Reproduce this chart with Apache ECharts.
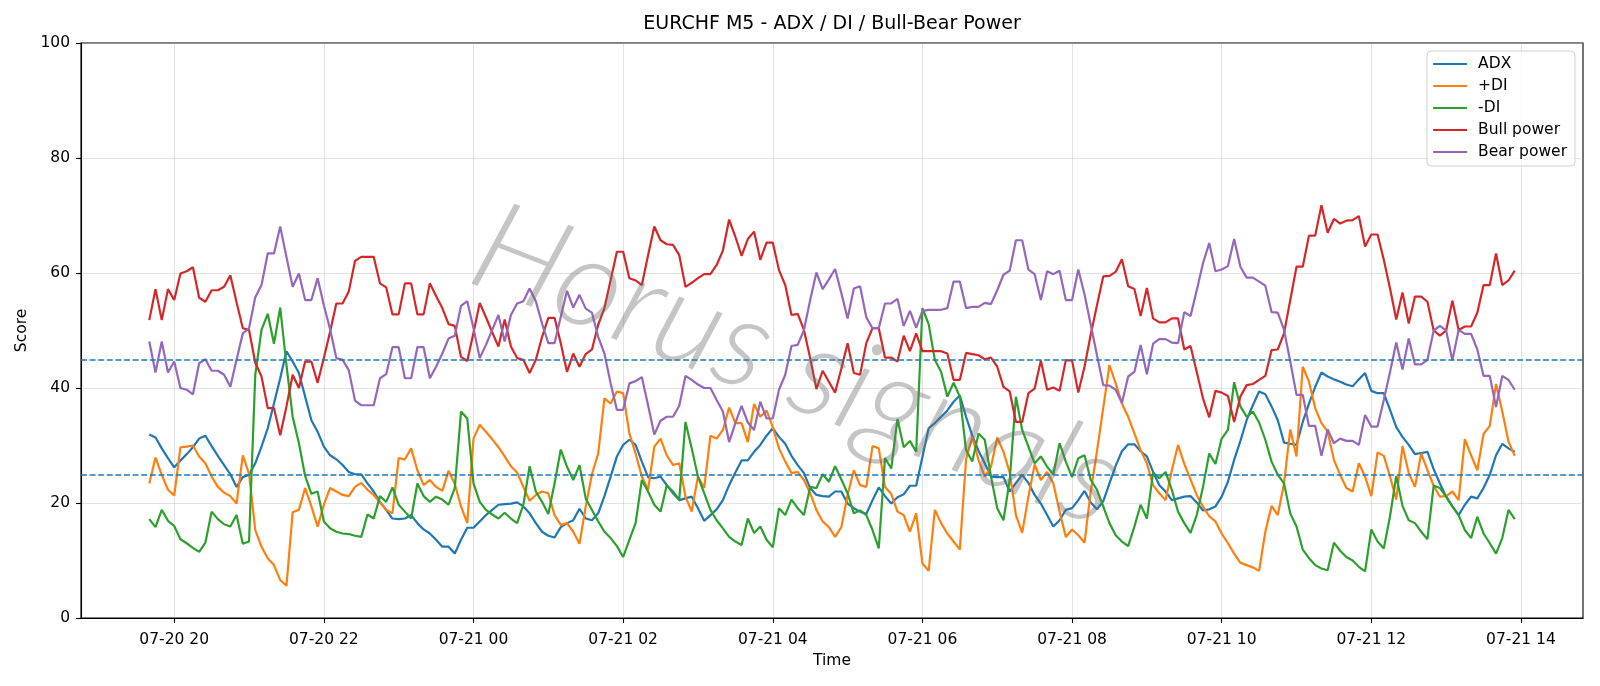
<!DOCTYPE html>
<html>
<head>
<meta charset="utf-8">
<title>EURCHF M5 - ADX / DI / Bull-Bear Power</title>
<script src="https://cdn.jsdelivr.net/npm/echarts@6/dist/echarts.min.js"></script>
<style>
html, body { margin: 0; padding: 0; background: #fff; }
#chart { width: 1600px; height: 686px; }
</style>
</head>
<body>
<div id="chart"></div>
<script>
// M5 bars, first bar 07-20 19:40
var startTime = Date.UTC(2025, 6, 20, 19, 40);
var stepMs = 5 * 60 * 1000;

var adx = [
    31.9, 31.4, 29.5, 27.8, 26.2, 27.4, 28.5, 29.7, 31.2, 31.7, 29.9, 28.2, 26.6, 25.0, 22.8, 24.5, 24.9, 26.9, 29.8, 33.0,
    37.3, 41.7, 46.4, 44.6, 42.6, 38.5, 34.4, 32.4, 29.8, 28.3, 27.6, 26.6, 25.4, 25.0, 25.0, 23.4, 22.0, 20.2, 18.8, 17.3,
    17.2, 17.3, 17.9, 16.5, 15.4, 14.7, 13.6, 12.4, 12.4, 11.2, 13.6, 15.7, 15.7, 16.8, 17.9, 18.8, 19.7, 19.8, 19.9, 20.1,
    19.4, 18.2, 16.5, 15.0, 14.3, 14.0, 15.8, 16.5, 17.0, 19.0, 17.3, 17.0, 18.2, 21.2, 24.6, 28.1, 30.1, 31.0, 30.1, 27.2,
    24.5, 24.3, 24.6, 23.1, 21.7, 20.5, 20.8, 21.1, 19.1, 16.9, 17.9, 18.9, 20.5, 23.1, 25.3, 27.4, 27.4, 28.9, 30.1, 31.7,
    33.0, 31.5, 30.3, 28.2, 26.6, 25.2, 22.6, 21.4, 21.2, 21.1, 22.0, 22.0, 19.9, 19.1, 18.5, 18.1, 20.5, 22.7, 21.2, 19.9,
    21.0, 21.5, 23.0, 23.0, 28.0, 33.0, 33.9, 35.0, 36.1, 37.6, 38.7, 35.0, 31.7, 29.1, 26.9, 24.6, 24.5, 24.5, 22.0, 23.5,
    24.9, 23.5, 21.4, 19.9, 17.9, 15.9, 17.0, 18.8, 19.1, 20.5, 22.1, 20.1, 18.9, 20.3, 23.4, 26.5, 29.0, 30.2, 30.2, 29.0,
    28.1, 25.4, 23.1, 22.0, 20.5, 20.8, 21.1, 21.2, 20.1, 18.7, 18.9, 19.4, 21.1, 23.7, 27.5, 30.8, 34.4, 37.0, 39.4, 38.9,
    36.8, 34.4, 30.5, 30.3, 30.1, 34.1, 37.3, 40.2, 42.7, 42.0, 41.5, 41.1, 40.6, 40.3, 41.5, 42.6, 39.5, 39.1, 39.1, 36.2,
    33.2, 31.5, 30.1, 28.5, 28.7, 28.9, 25.9, 23.4, 21.1, 19.4, 17.9, 19.7, 21.1, 20.8, 22.6, 24.9, 28.3, 30.3, 29.5, 28.9
];
var plusDI = [
    23.4, 27.9, 24.9, 22.3, 21.3, 29.7, 29.8, 30.0, 28.1, 26.9, 24.6, 22.8, 21.8, 21.2, 19.9, 28.3, 25.1, 15.3, 12.4, 10.4,
    9.2, 6.6, 5.6, 18.4, 18.8, 22.6, 19.4, 15.9, 19.7, 22.6, 22.0, 21.4, 21.2, 22.8, 23.5, 22.3, 21.4, 20.1, 18.8, 18.2,
    27.8, 27.6, 29.5, 25.7, 23.1, 24.0, 22.8, 22.1, 25.6, 23.3, 19.4, 16.5, 31.2, 33.6, 32.4, 31.1, 29.7, 28.1, 26.4, 25.3,
    22.8, 20.4, 21.4, 22.0, 21.7, 17.9, 16.2, 16.5, 15.0, 12.9, 19.4, 25.0, 28.6, 38.2, 37.3, 39.4, 39.1, 32.1, 28.6, 24.6,
    22.3, 29.8, 31.2, 28.3, 26.6, 26.9, 21.1, 18.5, 24.6, 22.6, 31.7, 31.2, 32.7, 36.6, 33.9, 33.9, 30.6, 37.2, 35.0, 36.1,
    33.2, 29.5, 27.2, 25.2, 25.4, 24.0, 21.7, 18.8, 16.8, 15.8, 14.1, 15.8, 21.4, 25.7, 23.1, 22.8, 29.9, 29.5, 22.8, 21.6,
    18.5, 17.9, 15.0, 18.2, 9.5, 8.2, 18.8, 16.5, 14.7, 13.3, 11.9, 27.6, 31.5, 27.5, 24.6, 26.3, 31.4, 28.9, 25.3, 17.9,
    14.8, 21.1, 26.7, 24.0, 25.4, 23.4, 18.5, 14.1, 15.4, 14.4, 13.1, 22.0, 29.0, 36.5, 44.0, 40.8, 37.3, 35.0, 32.1, 29.2,
    26.9, 23.1, 21.7, 20.5, 25.7, 30.1, 26.8, 24.1, 21.4, 19.4, 17.7, 16.8, 14.7, 13.0, 11.2, 9.6, 9.2, 8.8, 8.2, 15.0,
    19.5, 17.9, 23.4, 32.8, 28.1, 43.7, 41.1, 36.5, 33.9, 32.4, 27.5, 24.9, 22.6, 22.0, 26.9, 24.6, 21.2, 28.8, 28.2, 24.6,
    20.6, 29.9, 25.2, 22.8, 28.6, 25.7, 23.0, 21.1, 21.2, 22.0, 20.5, 31.1, 28.3, 25.7, 32.0, 33.4, 40.7, 35.9, 30.7, 28.2
];
var minusDI = [
    17.2, 15.8, 18.8, 16.9, 16.0, 13.7, 13.0, 12.2, 11.5, 13.1, 18.5, 17.2, 16.3, 15.9, 17.9, 12.9, 13.3, 42.3, 50.1, 52.9,
    47.7, 54.0, 44.0, 35.0, 30.4, 24.7, 21.6, 22.0, 16.8, 15.6, 15.0, 14.7, 14.6, 14.3, 14.1, 18.0, 17.3, 21.2, 20.2, 22.7,
    19.7, 18.5, 17.3, 23.4, 21.2, 20.2, 21.1, 20.6, 19.7, 22.6, 35.9, 34.7, 23.4, 20.2, 18.8, 18.0, 17.3, 18.3, 17.3, 16.5,
    19.7, 26.4, 22.0, 20.2, 18.1, 23.4, 29.3, 26.3, 24.0, 26.6, 20.8, 18.8, 16.8, 15.0, 13.9, 12.5, 10.6, 13.6, 16.5, 24.0,
    22.0, 19.7, 18.5, 23.1, 22.0, 20.6, 34.1, 29.5, 24.6, 21.7, 18.8, 17.0, 15.6, 14.1, 13.3, 12.7, 17.3, 14.8, 15.9, 13.6,
    12.3, 19.1, 17.9, 20.6, 19.1, 17.9, 22.8, 22.6, 25.0, 23.7, 26.4, 24.1, 21.7, 18.2, 18.7, 17.9, 15.3, 12.1, 27.8, 26.0,
    34.6, 29.7, 30.8, 28.9, 53.9, 51.1, 44.9, 42.8, 38.5, 40.9, 38.5, 29.2, 27.2, 32.1, 31.0, 24.6, 19.1, 17.0, 24.0, 38.5,
    32.7, 29.8, 26.9, 28.1, 26.3, 25.0, 30.4, 27.2, 24.5, 27.8, 28.3, 24.0, 22.3, 19.4, 16.5, 14.4, 13.3, 12.5, 15.9, 19.7,
    17.3, 25.3, 24.3, 25.4, 22.3, 18.5, 16.5, 14.8, 17.9, 22.8, 28.6, 26.8, 31.2, 32.7, 41.0, 36.8, 35.0, 35.9, 34.0, 31.0,
    27.2, 24.9, 23.4, 18.2, 15.9, 11.9, 10.4, 9.2, 8.6, 8.3, 13.1, 11.7, 10.6, 10.0, 8.9, 8.1, 15.4, 13.3, 12.1, 17.7,
    24.7, 19.5, 17.0, 16.5, 15.0, 13.7, 23.0, 22.6, 21.1, 19.4, 17.9, 15.3, 13.9, 17.6, 14.7, 13.0, 11.2, 13.9, 18.8, 17.2
];
var bullPower = [
    51.8, 57.2, 51.8, 57.2, 55.3, 59.9, 60.3, 61.0, 55.7, 55.0, 57.0, 57.0, 57.6, 59.6, 54.9, 50.4, 50.1, 44.4, 42.0, 36.5,
    36.5, 31.8, 36.8, 42.3, 40.0, 44.6, 44.6, 40.9, 45.2, 49.8, 54.7, 54.7, 56.8, 62.1, 62.8, 62.8, 62.8, 58.2, 57.5, 52.8,
    52.8, 58.2, 58.2, 52.8, 52.8, 58.2, 56.0, 53.9, 51.1, 50.8, 45.4, 44.7, 49.6, 54.8, 52.3, 49.7, 47.2, 51.9, 47.2, 45.2,
    44.9, 42.6, 44.9, 48.9, 52.2, 52.2, 47.8, 42.8, 46.0, 43.7, 45.9, 46.7, 51.0, 53.9, 58.8, 63.7, 63.7, 59.1, 58.7, 57.9,
    63.1, 68.1, 65.7, 65.0, 64.9, 63.1, 57.6, 58.3, 59.1, 59.8, 59.8, 61.4, 63.9, 69.3, 66.3, 63.0, 65.9, 67.2, 62.3, 65.3,
    65.3, 60.5, 57.9, 52.7, 52.9, 50.1, 45.2, 39.8, 43.0, 41.1, 39.2, 43.4, 47.8, 42.6, 42.3, 47.8, 50.4, 50.4, 45.3, 45.3,
    44.6, 49.1, 46.4, 49.5, 46.4, 46.4, 46.4, 46.4, 46.0, 41.4, 41.4, 46.1, 45.9, 45.7, 45.0, 45.3, 43.7, 40.2, 39.4, 34.1,
    34.1, 39.1, 39.9, 44.8, 39.7, 40.1, 39.5, 44.8, 44.8, 39.2, 43.7, 49.3, 54.4, 59.4, 59.5, 60.2, 62.4, 57.7, 57.2, 52.5,
    57.4, 52.1, 51.4, 51.4, 52.1, 52.1, 46.7, 47.3, 42.8, 38.2, 34.9, 39.5, 39.2, 38.6, 34.1, 38.5, 40.5, 40.7, 41.4, 42.1,
    46.6, 46.7, 49.5, 55.3, 61.1, 61.1, 66.5, 66.5, 71.8, 67.0, 69.4, 68.6, 69.1, 69.2, 69.9, 64.6, 66.7, 66.7, 62.3, 57.3,
    51.9, 56.6, 51.2, 55.9, 55.9, 55.0, 50.0, 49.1, 50.0, 55.2, 50.1, 50.7, 50.7, 53.1, 57.9, 57.9, 63.4, 57.9, 58.7, 60.4
];
var bearPower = [
    48.1, 42.7, 48.1, 42.7, 44.6, 40.0, 39.7, 38.9, 44.3, 45.0, 43.0, 43.0, 42.3, 40.2, 44.9, 49.5, 50.4, 55.8, 57.9, 63.4,
    63.4, 68.1, 62.8, 57.6, 59.9, 55.3, 55.3, 59.1, 54.4, 50.2, 45.2, 44.9, 43.1, 37.8, 37.0, 37.0, 37.0, 41.7, 42.4, 47.1,
    47.1, 41.7, 41.7, 47.1, 47.1, 41.7, 43.7, 46.0, 48.6, 49.1, 54.3, 55.1, 50.4, 45.2, 47.5, 50.1, 52.7, 48.1, 52.7, 54.7,
    55.1, 57.3, 55.1, 51.2, 47.8, 47.8, 52.4, 56.9, 54.0, 56.2, 53.8, 53.1, 48.9, 46.0, 40.8, 36.2, 36.2, 40.8, 41.2, 41.9,
    37.0, 31.9, 34.3, 35.0, 35.0, 36.9, 42.1, 41.4, 40.6, 40.0, 40.0, 37.9, 35.9, 30.6, 33.9, 36.9, 34.0, 32.7, 37.6, 34.7,
    34.7, 39.7, 42.3, 47.3, 47.5, 50.1, 55.3, 60.1, 57.2, 58.9, 60.7, 56.5, 52.1, 57.3, 57.7, 52.3, 50.4, 50.4, 54.7, 54.7,
    55.5, 50.8, 53.4, 50.5, 53.4, 53.6, 53.6, 53.6, 53.9, 58.5, 58.5, 53.9, 54.1, 54.1, 54.8, 54.6, 57.0, 59.7, 60.4, 65.7,
    65.7, 60.6, 59.8, 55.3, 60.3, 59.8, 60.4, 55.3, 55.3, 60.6, 56.3, 51.0, 45.7, 40.5, 40.4, 39.7, 37.4, 42.0, 42.8, 47.5,
    42.4, 47.7, 48.5, 48.5, 47.9, 47.8, 53.2, 52.5, 57.0, 61.7, 65.2, 60.3, 60.6, 61.2, 65.9, 61.1, 59.2, 59.2, 58.5, 57.8,
    53.2, 53.1, 50.1, 44.6, 38.8, 38.8, 33.4, 33.4, 28.2, 32.8, 30.4, 31.2, 30.8, 30.8, 30.1, 35.3, 33.3, 33.3, 37.9, 42.8,
    47.9, 43.2, 48.6, 44.1, 44.1, 44.9, 50.0, 50.8, 50.0, 44.8, 50.1, 49.4, 49.4, 46.7, 42.1, 42.1, 36.7, 42.1, 41.4, 39.7
];

// 2h ticks: 07-20 20:00 ... 07-21 14:00
var tickTimes = [
    Date.UTC(2025, 6, 20, 20), Date.UTC(2025, 6, 20, 22), Date.UTC(2025, 6, 21, 0),
    Date.UTC(2025, 6, 21, 2), Date.UTC(2025, 6, 21, 4), Date.UTC(2025, 6, 21, 6),
    Date.UTC(2025, 6, 21, 8), Date.UTC(2025, 6, 21, 10), Date.UTC(2025, 6, 21, 12),
    Date.UTC(2025, 6, 21, 14)
];
var thresholds = [45, 25];

var colors = ['#1f77b4', '#ff7f0e', '#2ca02c', '#d62728', '#9467bd'];
var font = 'DejaVu Sans';
var gridColor = 'rgba(176,176,176,0.35)';

function pad2(n) { return (n < 10 ? '0' : '') + n; }
function fmtTick(v) {
    var d = new Date(v);
    return pad2(d.getUTCMonth() + 1) + '-' + pad2(d.getUTCDate()) + ' ' + pad2(d.getUTCHours());
}
function toPoints(values) {
    var out = [];
    for (var i = 0; i < values.length; i++) {
        out.push([startTime + i * stepMs, values[i]]);
    }
    return out;
}

// matplotlib style 5% x margins
var span = (adx.length - 1) * stepMs;
var xMin = startTime - span * 0.05;
var xMax = startTime + span * 1.05;

function lineSeries(name, values, color) {
    return {
        name: name,
        type: 'line',
        data: toPoints(values),
        symbol: 'none',
        showSymbol: false,
        lineStyle: { color: color, width: 2.2 },
        itemStyle: { color: color },
        animation: false
    };
}

var series = [
    lineSeries('ADX', adx, colors[0]),
    lineSeries('+DI', plusDI, colors[1]),
    lineSeries('-DI', minusDI, colors[2]),
    lineSeries('Bull power', bullPower, colors[3]),
    lineSeries('Bear power', bearPower, colors[4])
];
series[0].markLine = {
    silent: true,
    symbol: 'none',
    label: { show: false },
    lineStyle: { color: colors[0], width: 1.5, type: [6, 2.6] },
    data: thresholds.map(function (t) { return { yAxis: t }; }),
    animation: false
};

var chart = echarts.init(document.getElementById('chart'));
chart.setOption({
    backgroundColor: '#ffffff',
    animation: false,
    color: colors,
    textStyle: { fontFamily: font },
    title: {
        text: 'EURCHF M5 - ADX / DI / Bull-Bear Power',
        left: 832,
        top: 15,
        padding: 0,
        textAlign: 'center',
        textStyle: { fontFamily: font, fontSize: 19, fontWeight: 'normal', color: '#000' }
    },
    legend: {
        orient: 'vertical',
        right: 25,
        top: 51,
        padding: [5, 8, 6, 5],
        itemWidth: 34,
        itemHeight: 16,
        itemGap: 6,
        backgroundColor: 'rgba(255,255,255,0.8)',
        borderColor: '#d0d0d0',
        borderWidth: 1,
        borderRadius: 4,
        itemStyle: { opacity: 0 },
        lineStyle: { width: 2.2 },
        textStyle: { fontFamily: font, fontSize: 15.5, color: '#000', padding: [0, 0, 0, 6] },
        data: ['ADX', '+DI', '-DI', 'Bull power', 'Bear power']
    },
    grid: {
        left: 81, right: 17, top: 43, bottom: 68,
        show: true, borderColor: '#000', borderWidth: 1.1, backgroundColor: 'transparent'
    },
    xAxis: {
        type: 'value',
        min: xMin,
        max: xMax,
        name: 'Time',
        nameLocation: 'middle',
        nameGap: 33,
        nameTextStyle: { fontFamily: font, fontSize: 15.5, color: '#000' },
        axisLine: { show: true, lineStyle: { color: '#000', width: 1.1 } },
        axisTick: { show: true, customValues: tickTimes, length: 5, lineStyle: { color: '#000', width: 1.1 } },
        axisLabel: {
            customValues: tickTimes,
            formatter: fmtTick,
            margin: 14,
            fontFamily: font, fontSize: 15.5, color: '#000'
        },
        splitLine: { show: true, lineStyle: { color: gridColor, width: 1.1 } }
    },
    yAxis: {
        type: 'value',
        min: 0,
        max: 100,
        interval: 20,
        name: 'Score',
        nameLocation: 'middle',
        nameGap: 44,
        nameTextStyle: { fontFamily: font, fontSize: 15.5, color: '#000' },
        axisLine: { show: true, lineStyle: { color: '#000', width: 1.1 } },
        axisTick: { show: true, length: 5, lineStyle: { color: '#000', width: 1.1 } },
        axisLabel: { margin: 11, fontFamily: font, fontSize: 15.5, color: '#000' },
        splitLine: { show: true, lineStyle: { color: gridColor, width: 1.1 } }
    },
    graphic: [{
        type: 'text',
        z: 100,
        silent: true,
        x: 797,
        y: 366,
        rotation: -0.37,
        style: {
            text: 'Horus signals',
            fontFamily: 'Lato',
            fontStyle: 'italic',
            fontWeight: 300,
            fontSize: 127,
            fill: 'rgba(110,110,110,0.4)',
            align: 'center',
            verticalAlign: 'middle'
        }
    }],
    series: series
});
</script>
</body>
</html>
